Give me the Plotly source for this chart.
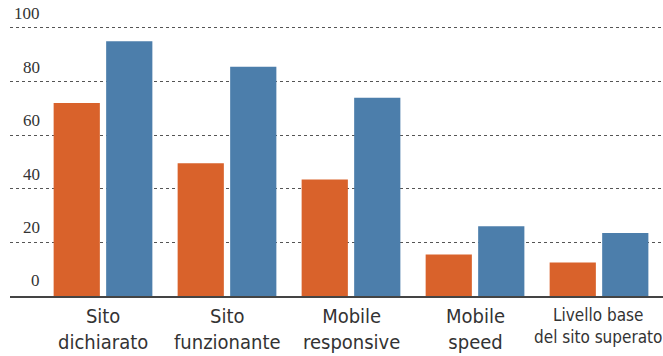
import plotly.graph_objects as go

categories = ["Sito<br>dichiarato", "Sito<br>funzionante", "Mobile<br>responsive", "Mobile<br>speed", "Livello base<br>del sito superato"]
series_orange = [72, 49.5, 43.5, 15.5, 12.5]
series_blue = [95, 85.5, 74, 26, 23.5]
y_ticks = [0, 20, 40, 60, 80, 100]

ORANGE = "#D9622B"
BLUE = "#4C7EAB"

xs = list(range(len(categories)))
fig = go.Figure()
fig.add_trace(go.Bar(x=xs, y=series_orange, marker_color=ORANGE, marker_line_width=0, name="A"))
fig.add_trace(go.Bar(x=xs, y=series_blue, marker_color=BLUE, marker_line_width=0, name="B"))

annotations = []
for t in y_ticks:
    annotations.append(dict(
        x=0.049, xref="paper", y=t, yref="y", text=str(t), showarrow=False,
        xanchor="right", yanchor="bottom", yshift=3 if t > 0 else 4,
        font=dict(family="Liberation Serif", size=17, color="#333333"),
    ))
for x, c in zip(xs, categories):
    last = x == xs[-1]
    annotations.append(dict(
        x=x, xref="x", y=0, yref="paper", text=c, showarrow=False,
        xanchor="center", yanchor="top", yshift=-6 if not last else -7, xshift=-1 if last else 0,
        font=dict(family="'DejaVu Sans Condensed', 'DejaVu Sans', sans-serif", size=17 if last else 20, color="#333333"),
    ))

fig.update_layout(
    width=663, height=356,
    margin=dict(l=10, r=0, t=10, b=60),
    paper_bgcolor="white", plot_bgcolor="white",
    barmode="group", bargap=0.153, bargroupgap=0.12,
    showlegend=False,
    annotations=annotations,
    xaxis=dict(
        range=[-0.75, 4.516], tickmode="array", tickvals=xs,
        showticklabels=False, showgrid=False, zeroline=False,
        showline=True, linecolor="#444444", linewidth=1.5, ticks="",
    ),
    yaxis=dict(
        range=[0, 106.7], tickmode="array", tickvals=y_ticks[1:], showticklabels=False,
        showgrid=True, gridcolor="#555555", griddash="dot", gridwidth=1, zeroline=False,
    ),
)

fig.write_html("out.html")
